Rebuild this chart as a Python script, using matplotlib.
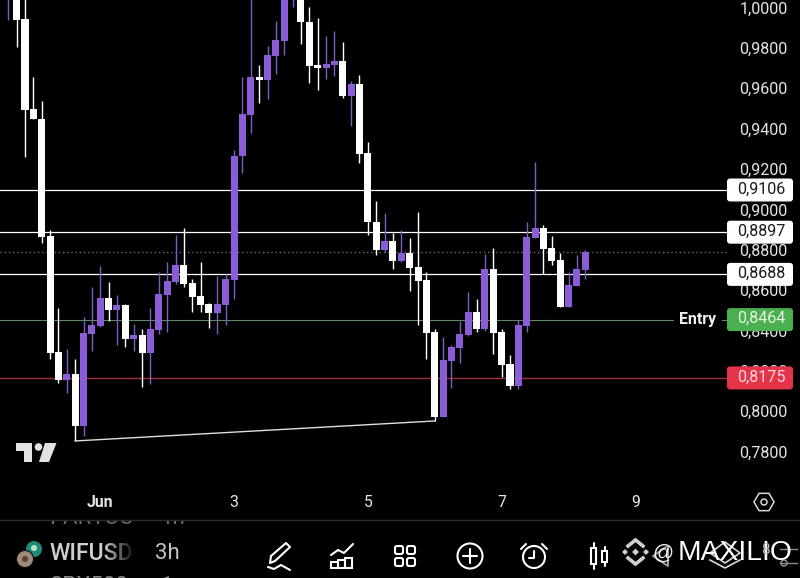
#!/usr/bin/env python3
import numpy as np
import matplotlib
matplotlib.use("Agg")
import matplotlib.pyplot as plt
from matplotlib.patches import Circle, FancyBboxPatch, Polygon, Rectangle, RegularPolygon
from matplotlib.transforms import IdentityTransform, ScaledTranslation

plt.rcParams['font.family'] = ['Roboto', 'DejaVu Sans']

# candle data, 3h bars, index 0 = 1 Jun 00:00
first_bar = -11
opens = [1.012, 1.020, .9953, .9507, .9458, .8878, .8304, .8165, .8195, .7937, .8393,
         .8432, .8571, .8512, .8536, .8368, .8388, .8299, .8412, .8586, .8650, .8734,
         .8645, .8581, .8541, .8497, .8536, .8660, .9274, .9477, .9666, .9651, .9770,
         .9844, 1.015, 1.020, .9938, .9725, .9710, .9725, .9745, .9571, .9631, .9289,
         .8947, .8809, .8853, .8754, .8794, .8725, .8660, .8403, .7982, .8259, .8323,
         .8388, .8502, .8417, .8715, .8403, .8244, .8135, .8432, .8868, .8918, .8819,
         .8759, .8526, .8630, .8710]
closes = [1.020, .9948, .9502, .9458, .8873, .8299, .8165, .8195, .7937, .8398, .8437,
          .8571, .8512, .8536, .8368, .8388, .8299, .8417, .8591, .8655, .8734, .8640,
          .8576, .8536, .8497, .8541, .8665, .9274, .9482, .9666, .9651, .9775, .9849,
          1.012, 1.030, .9938, .9720, .9710, .9730, .9745, .9571, .9631, .9284, .8947,
          .8809, .8853, .8754, .8794, .8720, .8655, .8398, .7982, .8264, .8328, .8393,
          .8502, .8417, .8715, .8398, .8239, .8135, .8437, .8873, .8918, .8814, .8754,
          .8526, .8635, .8715, .8799]
highs = [1.030, 1.030, 1.010, .9666, .9547, .8908, .8521, .8318, .8269, .8477, .8625,
         .8729, .8650, .8586, .8541, .8442, .8417, .8521, .8700, .8749, .8883, .8918,
         .8665, .8749, .8546, .8680, .8690, .9304, .9666, 1.010, .9725, .9819, .9943,
         1.030, 1.035, 1.030, 1.0012, .9958, .9869, .9893, .9839, .9646, .9676, .9344,
         .9051, .8992, .8893, .8908, .8868, .8997, .8700, .8417, .8378, .8338, .8457,
         .8601, .8566, .8789, .8819, .8417, .8289, .8462, .8947, .9245, .8933, .8878,
         .8794, .8700, .8784, .8809]
lows = [.9948, .9814, .9269, .9458, .8843, .8269, .8150, .8100, .7863, .7888, .8308,
        .8427, .8457, .8338, .8328, .8308, .8130, .8145, .8393, .8403, .8640, .8625,
        .8502, .8502, .8422, .8393, .8437, .8566, .9190, .9388, .9537, .9557, .9680,
        .9775, 1.0012, .9829, .9636, .9601, .9656, .9671, .9562, .9423, .9240, .8883,
        .8784, .8799, .8715, .8749, .8606, .8437, .8269, .7962, .7982, .8125, .8249,
        .8383, .8403, .8408, .8294, .8180, .8120, .8120, .8403, .8868, .8690, .8734,
        .8526, .8526, .8630, .8665]

price_ticks = [1.00, .98, .96, .94, .92, .90, .88, .86, .84, .82, .80, .78]
date_ticks = [0, 16, 32, 48, 64]
date_labels = ['Jun', '3', '5', '7', '9']
levels = [.9106, .8897, .8688]
entry_price = .8464
stop_price = .8175
last_price = .8799
trend_bars = [-3, 40]
trend_prices = [.7863, .7962]

PURPLE = '#8a5cd6'
WICK_PURPLE = '#7d5cc4'
W, H = 800, 578

fig = plt.figure(figsize=(8, 5.78), dpi=100, facecolor='black')
ax = fig.add_axes([0, 90 / H, 727 / W, 488 / H], facecolor='black')
ax.set_xlim(-11.99, 74.95)
ax.set_ylim(.7630, 1.0047)
for s in ax.spines.values():
    s.set_visible(False)

# levels sit behind the candles
for lv in levels:
    ax.axhline(lv, color='white', lw=.9, zorder=1)
ax.axhline(last_price, color='#6a6a6a', lw=1, ls=(0, (1, 2)), zorder=1)
ax.axhline(entry_price, xmax=673 / 727, color='#5d8a62', lw=.8, zorder=1)
ax.axhline(entry_price, xmin=722 / 727, color='#5d8a62', lw=.8, zorder=1)
ax.axhline(stop_price, color='#a03038', lw=1, zorder=1)

bars = np.arange(first_bar, first_bar + len(opens))
o = np.array(opens)
c = np.array(closes)
up = c >= o
colors = np.where(up, PURPLE, 'white')
wick_colors = np.where(up, WICK_PURPLE, 'white')
ax.vlines(bars, lows, highs, colors=wick_colors, lw=1, zorder=2)
ax.bar(bars, np.abs(c - o), bottom=np.minimum(o, c), width=.84, color=colors, zorder=3)

ax.plot(trend_bars, trend_prices, color='#e6dcd8', lw=1, zorder=2)

ax.yaxis.tick_right()
ax.set_yticks(price_ticks)
ax.set_yticklabels([f'{p:.4f}'.replace('.', ',') for p in price_ticks])
ax.tick_params(axis='y', length=0, pad=8, labelsize=11.6, labelcolor='#e4e4e4')
# price scale text sits a little above its true level
nudge = ScaledTranslation(1.5 / 100, 2 / 100, fig.dpi_scale_trans)
for lab in ax.get_yticklabels():
    lab.set_transform(lab.get_transform() + nudge)
ax.set_xticks(date_ticks)
ax.set_xticklabels(date_labels)
ax.tick_params(axis='x', length=0, pad=5, labelsize=11.3, labelcolor='#e8e8e8')
ax.get_xticklabels()[0].set_fontweight('bold')


def price_tag(value, face, text_color):
    # tag size is in pixels, its height follows the price scale position
    x0 = ax.get_position().x1 * W
    y0 = ax.transData.transform((0, value))[1]
    ax.add_patch(FancyBboxPatch((x0, y0 - 11.5), 66, 23, boxstyle='round,pad=0,rounding_size=3',
                                fc=face, ec='none', transform=IdentityTransform(),
                                clip_on=False, zorder=6))
    ax.annotate(f'{value:.4f}'.replace('.', ','), (1, value), xycoords=('axes fraction', 'data'),
                xytext=(10, 1), textcoords='offset pixels', ha='left', va='center',
                fontsize=11.6, color=text_color, zorder=7, annotation_clip=False)


for lv in levels:
    price_tag(lv, 'white', '#1a1a1a')
price_tag(entry_price, '#4caf50', '#e6f5e6')
price_tag(stop_price, '#e5344a', '#fbd6da')
ax.annotate('Entry', (673 / 727, entry_price), xycoords=('axes fraction', 'data'),
            xytext=(6, 0), textcoords='offset pixels', ha='left', va='center',
            fontsize=11.4, fontweight='bold', color='#f2f2f2')

# overlay in image pixels for the app chrome, y goes down
ov = fig.add_axes([0, 0, 1, 1], facecolor='none')
ov.set_xlim(0, W)
ov.set_ylim(H, 0)
ov.axis('off')

ov.plot([0, W], [520, 520], color='#2b2b2b', lw=1)

# TradingView mark
LOGO = '#e2e2e2'
ov.add_patch(Polygon([(16, 443), (32, 443), (32, 462), (24, 462), (24, 451), (16, 451)], fc=LOGO, ec='none'))
ov.add_patch(Circle((38.5, 447), 3.8, fc=LOGO, ec='none'))
ov.add_patch(Polygon([(45, 443), (56.5, 443), (49, 462), (39, 462)], fc=LOGO, ec='none'))

# settings hexagon next to the time scale
ov.add_patch(RegularPolygon((764, 502), 6, radius=10, orientation=np.pi / 2, fc='none', ec='#d8d8d8', lw=1.1))
ov.add_patch(Circle((764, 502), 3, fc='none', ec='#d8d8d8', lw=1.1))

# symbol rows, the list scrolls behind the toolbar so rows are cut off
row_clip = Rectangle((0, 521), W, 57, transform=ov.transData)
for label, x, y, col in [('PARTUC', 49, 518, '#6a6a6a'), ('1h', 160, 518, '#6a6a6a'),
                         ('SPX500', 49, 586, '#888888'), ('1', 160, 586, '#888888')]:
    t = ov.text(x, y, label, fontsize=16, color=col, va='center', ha='left', clip_on=True)
    t.set_clip_path(row_clip)
ov.text(49, 553.5, 'WIFUSD', fontsize=16.7, fontweight='medium', color='#cfcfcf', va='center', ha='left')
ov.text(155, 553.5, '3h', fontsize=16, color='#c4c4c4', va='center', ha='left')
fade = np.zeros((1, 40, 4))
fade[..., 3] = np.linspace(0, 1, 40)
ov.imshow(fade, extent=(103, 136, 570, 540), aspect='auto', zorder=4)
ov.set_xlim(0, W)
ov.set_ylim(H, 0)
ov.add_patch(Circle((34, 549), 8, fc='#1f8a78', ec='none', zorder=5))
ov.add_patch(Circle((34, 548), 3, fc='#b8e6c0', ec='none', zorder=5))
ov.add_patch(Circle((25, 559), 8.5, fc='#a08a78', ec='#111111', lw=.8, zorder=6))
ov.add_patch(Circle((25, 559), 3, fc='#5a4438', ec='none', zorder=6))

ICON = {'color': 'white', 'lw': 1.5, 'solid_capstyle': 'round'}
# pencil
ov.plot([271, 286, 290, 275, 270, 271], [556, 543, 547, 561, 563, 556], **ICON)
ov.plot([268, 274, 281, 290], [567, 569, 565, 570], **ICON)
# chart
ov.plot([331, 338, 344, 353], [555, 550, 553, 544], **ICON)
for x0, top in [(331, 562), (338, 560), (345, 558)]:
    ov.add_patch(Rectangle((x0, top), 7, 568 - top, fc='none', ec='white', lw=1.5))
# grid
for x0 in (395, 407):
    for y0 in (546, 558):
        ov.add_patch(FancyBboxPatch((x0, y0), 8, 8, boxstyle='round,pad=0,rounding_size=2',
                                    fc='none', ec='white', lw=1.5))
# plus
ov.add_patch(Circle((470, 556), 12.5, fc='none', ec='white', lw=1.5))
ov.plot([463, 477], [556, 556], **ICON)
ov.plot([470, 470], [549, 563], **ICON)
# alarm
ov.add_patch(Circle((534, 557), 11, fc='none', ec='white', lw=1.5))
ov.plot([534, 534, 529], [551, 558, 558], **ICON)
ov.plot([521, 526], [549, 544], **ICON)
ov.plot([542, 547], [544, 549], **ICON)
# candles
ov.add_patch(Rectangle((591, 548), 5, 16, fc='none', ec='white', lw=1.5))
ov.add_patch(Rectangle((602, 551), 5, 11, fc='none', ec='white', lw=1.5))
ov.plot([593.5, 593.5], [543, 548], **ICON)
ov.plot([593.5, 593.5], [564, 569], **ICON)
ov.plot([604.5, 604.5], [547, 551], **ICON)
ov.plot([604.5, 604.5], [562, 566], **ICON)

# binance watermark and what shows through it
BN = '#cfcfcf'
for cx, cy, r in [(635.5, 552, 3.5), (625, 552, 3), (646, 552, 3)]:
    ov.add_patch(RegularPolygon((cx, cy), 4, radius=r, fc=BN, ec='none'))
ov.plot([628, 635.5, 643], [546, 540, 546], color=BN, lw=2.6, solid_joinstyle='miter')
ov.plot([628, 635.5, 643], [558, 564, 558], color=BN, lw=2.6, solid_joinstyle='miter')
ov.plot([666, 653, 668, 668], [547, 556, 566, 547], color='#a0a0a0', lw=1.4)
ov.plot([710, 725, 740, 725, 710], [553, 542, 553, 563, 553], color='#d8d8d8', lw=1.2)
ov.plot([710, 725, 740], [560, 568, 560], color='#d8d8d8', lw=1.2)
ov.plot([780, 797], [563, 563], color='#8a8a8a', lw=1)
ov.add_patch(Circle((784, 563), 3, fc='black', ec='#9a9a9a', lw=1))
ov.plot([780, 797], [549, 549], color='#8a8a8a', lw=1)
ov.text(663, 553, '@', fontsize=15, color='#f0f0f0', ha='center', va='center', family='Liberation Sans')
ov.text(678, 553, 'MAXILIO', fontsize=20.3, color='white', ha='left', va='center', family='Liberation Sans')
ov.text(765, 550, '8', fontsize=11, color='#bdbdbd', ha='center', va='center')

fig.savefig('out.png', dpi=100, facecolor='black')
